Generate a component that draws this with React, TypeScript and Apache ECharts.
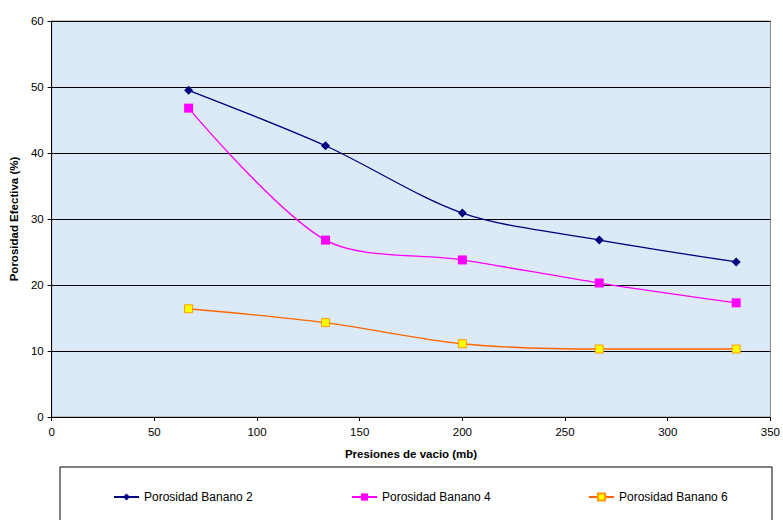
import React, { useEffect, useRef } from "react";
import * as echarts from "echarts";

const xValues = [66.67, 133.33, 200, 266.67, 333.33];
const banano2 = [49.5, 41.1, 30.9, 26.8, 23.5];
const banano4 = [46.8, 26.8, 23.8, 20.3, 17.3];
const banano6 = [16.4, 14.3, 11.1, 10.3, 10.3];
const seriesNames = ["Porosidad Banano 2", "Porosidad Banano 4", "Porosidad Banano 6"];

const pair = (ys: number[]) => ys.map((y, i) => [xValues[i], y]);

export default function App() {
  const ref = useRef<HTMLDivElement>(null);
  useEffect(() => {
    if (!ref.current) return;
    const chart = echarts.init(ref.current, null, { renderer: "svg" });
    const font = "'Liberation Sans', Arial, sans-serif";
    const legendLefts = [108, 346, 583];
    chart.setOption({
      animation: false,
      textStyle: { fontFamily: font },
      grid: {
        left: 51,
        right: 11,
        top: 21,
        bottom: 103,
        show: true,
        backgroundColor: "#dce9f7",
        borderColor: "#888888",
        borderWidth: 1,
      },
      graphic: [
        {
          type: "rect",
          shape: { x: 60, y: 467, width: 712, height: 70 },
          style: { fill: "#ffffff", stroke: "#000000", lineWidth: 1 },
          z: 0,
        },
      ],
      legend: seriesNames.map((n, i) => ({
        data: [n],
        left: legendLefts[i],
        top: 486,
        itemWidth: 25,
        itemHeight: 9,
        textStyle: { fontFamily: font, fontSize: 12, color: "#000" },
        z: 5,
      })),
      xAxis: {
        type: "value",
        min: 0,
        max: 350,
        interval: 50,
        name: "Presiones de vacio (mb)",
        nameLocation: "middle",
        nameGap: 31,
        nameTextStyle: { fontWeight: "bold", fontSize: 11.5, color: "#000", fontFamily: font },
        axisLine: { show: true, lineStyle: { color: "#000", width: 1 } },
        axisTick: { show: true, length: 4, lineStyle: { color: "#000" } },
        axisLabel: { fontSize: 11.5, color: "#000", margin: 9, fontFamily: font },
        splitLine: { show: false },
      },
      yAxis: {
        type: "value",
        min: 0,
        max: 60,
        interval: 10,
        name: "Porosidad Efectiva (%)",
        nameLocation: "middle",
        nameGap: 31,
        nameRotate: 90,
        nameTextStyle: { fontWeight: "bold", fontSize: 11.5, color: "#000", fontFamily: font },
        axisLine: { show: true, lineStyle: { color: "#000", width: 1 } },
        axisTick: { show: true, length: 4, lineStyle: { color: "#000" } },
        axisLabel: { fontSize: 11.5, color: "#000", margin: 8, fontFamily: font },
        splitLine: { show: true, lineStyle: { color: "#000", width: 1 } },
      },
      series: [
        {
          name: seriesNames[0],
          type: "line",
          data: pair(banano2),
          smooth: 0.3,
          symbol: "diamond",
          symbolSize: 9,
          lineStyle: { color: "#000080", width: 1.3 },
          itemStyle: { color: "#000080" },
        },
        {
          name: seriesNames[1],
          type: "line",
          data: pair(banano4),
          smooth: 0.3,
          symbol: "rect",
          symbolSize: 9,
          lineStyle: { color: "#ff00ff", width: 1.3 },
          itemStyle: { color: "#ff00ff" },
        },
        {
          name: seriesNames[2],
          type: "line",
          data: pair(banano6),
          smooth: 0.3,
          symbol: "rect",
          symbolSize: 8,
          lineStyle: { color: "#ff6600", width: 1.3 },
          itemStyle: { color: "#ffff00", borderColor: "#ff9900", borderWidth: 1 },
        },
      ],
    });
    return () => chart.dispose();
  }, []);
  return <div ref={ref} style={{ width: 783, height: 520, position: "absolute", left: 0, top: 0 }} />;
}
